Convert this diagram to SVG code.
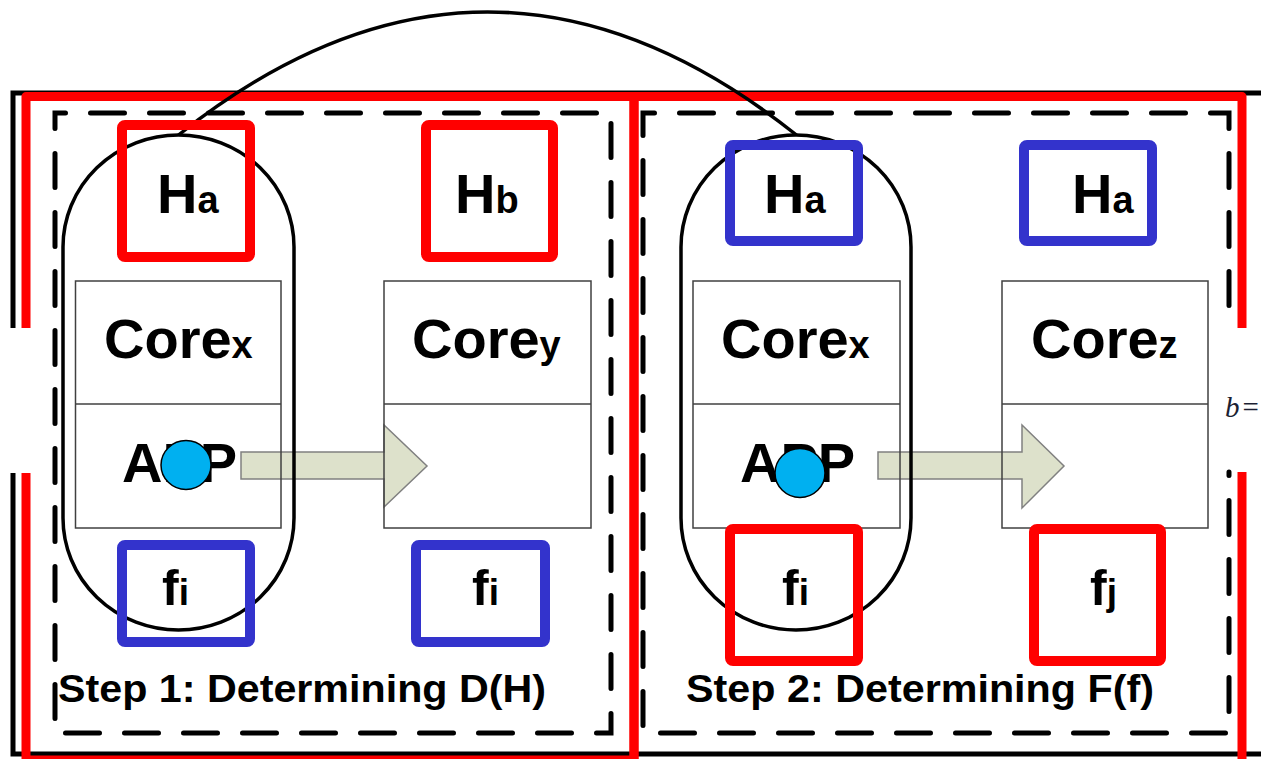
<svg xmlns="http://www.w3.org/2000/svg" width="1261" height="759" viewBox="0 0 1261 759">
  <style>
    .outer { fill: none; stroke: #000; stroke-width: 5; }
    .frame { fill: none; stroke: #ff0000; stroke-width: 9; stroke-linejoin: round; }
    .dash { fill: none; stroke: #000; stroke-width: 5; stroke-dasharray: 34 25; stroke-linecap: round; stroke-linejoin: miter; }
    .core { fill: none; stroke: #404040; stroke-width: 1.5; }
    .pill { fill: none; stroke: #000; stroke-width: 3.5; }
    .arc { fill: none; stroke: #000; stroke-width: 3.5; }
    .arrow { fill: #dde1cb; stroke: #808080; stroke-width: 1.5; }
    .red { fill: none; stroke: #ff0000; stroke-width: 10; }
    .blue { fill: none; stroke: #3333cc; stroke-width: 10; }
    .app { fill: #00b0f0; stroke: #000; stroke-width: 1.5; }
    .lbl { font-family: "Liberation Sans", Arial, sans-serif; font-weight: bold; fill: #000; }
    .big { font-size: 56px; }
    .sub { font-size: 38px; }
    .f { font-size: 50px; }
    .fs { font-size: 37px; }
    .step { font-size: 39px; }
  </style>

  <!-- outer black border, broken on the left -->
  <g id="border">
    <path class="outer" d="M1261 93 H13 V328 M13 473 V754 H1261"/>
  </g>

  <!-- step frames (red) -->
  <g id="step1-frame">
    <path class="frame" d="M26 328 V96.5 H634 V764 M26 473 V760 H634"/>
  </g>
  <g id="step2-frame">
    <path class="frame" d="M634 764 V96.5 H1242 V328 M1242 472 V764"/>
  </g>

  <!-- dashed step panels -->
  <g id="step1-panel">
    <path class="dash" stroke-dashoffset="23.5" d="M55 113 H611 V733 H55 Z"/>
  </g>
  <g id="step2-panel">
    <path class="dash" stroke-dashoffset="30.5" d="M1229 472 V733 H643 V113 H1229 V328"/>
  </g>

  <!-- connectors: migration arrows and the link between the two cores -->
  <g id="connectors">
    <polygon class="arrow" points="241,452 384,452 384,425 427,466 384,507 384,479 241,479"/>
    <polygon class="arrow" points="878,452 1022,452 1022,425 1064,466 1022,508 1022,479 878,479"/>
    <path class="arc" d="M178.5 135 Q487.5 -111 796.5 135"/>
  </g>

  <!-- cores -->
  <g id="core-x-1">
    <rect class="core" x="75.5" y="281" width="205.5" height="247"/>
    <line class="core" x1="75.5" y1="404" x2="281" y2="404"/>
    <text class="lbl" x="104" y="358"><tspan class="big">Core</tspan><tspan class="sub">x</tspan></text>
    <text class="lbl big" x="122" y="482">APP</text>
  </g>
  <g id="core-y">
    <rect class="core" x="384" y="281" width="207" height="247"/>
    <line class="core" x1="384" y1="404" x2="591" y2="404"/>
    <text class="lbl" x="412" y="358"><tspan class="big">Core</tspan><tspan class="sub">y</tspan></text>
  </g>
  <g id="core-x-2">
    <rect class="core" x="693" y="281" width="207" height="247"/>
    <line class="core" x1="693" y1="404" x2="900" y2="404"/>
    <text class="lbl" x="721" y="358"><tspan class="big">Core</tspan><tspan class="sub">x</tspan></text>
    <text class="lbl big" x="740" y="482">APP</text>
  </g>
  <g id="core-z">
    <rect class="core" x="1002" y="281" width="206" height="247"/>
    <line class="core" x1="1002" y1="404" x2="1208" y2="404"/>
    <text class="lbl" x="1031" y="358"><tspan class="big">Core</tspan><tspan class="sub">z</tspan></text>
  </g>

  <!-- thread pills -->
  <g id="pill-1">
    <rect class="pill" x="63" y="135" width="231" height="495" rx="115.5" ry="112"/>
  </g>
  <g id="pill-2">
    <rect class="pill" x="681" y="135" width="230" height="495" rx="115" ry="112"/>
  </g>

  <!-- hardware / frequency boxes -->
  <g id="h-a-1">
    <rect class="red" x="122" y="125" width="128" height="132" rx="3"/>
    <text class="lbl" x="157" y="213"><tspan class="big">H</tspan><tspan class="sub">a</tspan></text>
  </g>
  <g id="h-b">
    <rect class="red" x="426" y="125" width="127" height="132" rx="3"/>
    <text class="lbl" x="455" y="213"><tspan class="big">H</tspan><tspan class="sub">b</tspan></text>
  </g>
  <g id="h-a-2">
    <rect class="blue" x="730" y="145" width="128" height="96" rx="3"/>
    <text class="lbl" x="764" y="213"><tspan class="big">H</tspan><tspan class="sub">a</tspan></text>
  </g>
  <g id="h-a-3">
    <rect class="blue" x="1024" y="145" width="128" height="96" rx="3"/>
    <text class="lbl" x="1072" y="213"><tspan class="big">H</tspan><tspan class="sub">a</tspan></text>
  </g>
  <g id="f-i-1">
    <rect class="blue" x="122" y="545" width="128" height="97" rx="3"/>
    <text class="lbl" x="162" y="605"><tspan class="f">f</tspan><tspan class="fs">i</tspan></text>
  </g>
  <g id="f-i-2">
    <rect class="blue" x="416" y="545" width="129" height="97" rx="3"/>
    <text class="lbl" x="472" y="605"><tspan class="f">f</tspan><tspan class="fs">i</tspan></text>
  </g>
  <g id="f-i-3">
    <rect class="red" x="730" y="529" width="128" height="132" rx="3"/>
    <text class="lbl" x="782" y="605"><tspan class="f">f</tspan><tspan class="fs">i</tspan></text>
  </g>
  <g id="f-j">
    <rect class="red" x="1034" y="529" width="127" height="132" rx="3"/>
    <text class="lbl" x="1090" y="605"><tspan class="f">f</tspan><tspan class="fs">j</tspan></text>
  </g>

  <!-- application markers -->
  <g id="app-1">
    <ellipse class="app" cx="186" cy="465" rx="25" ry="24.5"/>
  </g>
  <g id="app-2">
    <ellipse class="app" cx="800" cy="473" rx="25" ry="24.5"/>
  </g>

  <!-- step captions -->
  <g id="caption-1">
    <text class="lbl step" x="58" y="702" textLength="488" lengthAdjust="spacingAndGlyphs">Step 1: Determining D(H)</text>
  </g>
  <g id="caption-2">
    <text class="lbl step" x="686" y="702" textLength="468" lengthAdjust="spacingAndGlyphs">Step 2: Determining F(f)</text>
  </g>

  <g id="formula">
    <text x="1225" y="417" font-family="Liberation Serif, serif" font-size="29" fill="#1c1f33"><tspan font-style="italic">b</tspan><tspan dx="3">=</tspan></text>
  </g>
</svg>
